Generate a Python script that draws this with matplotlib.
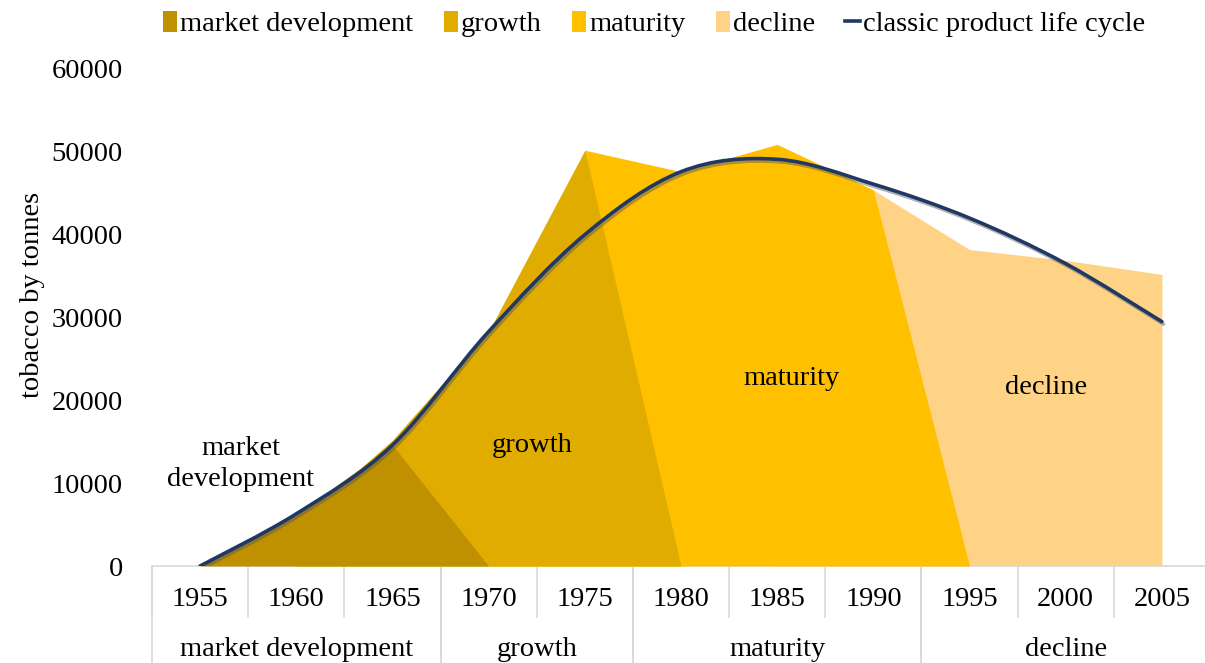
import numpy as np
import matplotlib
matplotlib.use('Agg')
import matplotlib.pyplot as plt
from matplotlib.path import Path
from matplotlib.patches import PathPatch, Patch
from matplotlib.lines import Line2D
import matplotlib.patheffects as pe

nan = np.nan

# ---- data ----
years = ['1955', '1960', '1965', '1970', '1975', '1980', '1985', '1990', '1995', '2000', '2005']
market_development = [0, 6200, 14600, 0, nan, nan, nan, nan, nan, nan, nan]
growth = [nan, 5000, 15200, 28300, 50200, 0, nan, nan, nan, nan, nan]
maturity = [nan, nan, nan, 0, 50200, 47600, 50900, 45400, 0, nan, nan]
decline = [nan, nan, nan, nan, nan, nan, 0, 45400, 38200, 36900, 35200]
classic_cycle = [0, 6300, 14600, 28300, 40000, 47600, 49100, 46100, 42000, 36500, 29500]

phase_names = ['market development', 'growth', 'maturity', 'decline']
phase_first = [0, 3, 5, 8]   # first category index of each phase
phase_last = [2, 4, 7, 10]   # last category index of each phase
legend_line = 'classic product life cycle'
y_label = 'tobacco by tonnes'
y_ticks = [0, 10000, 20000, 30000, 40000, 50000, 60000]

colors = ['#BF9000', '#E0AC00', '#FFC000', '#FFD386']
line_color = '#1F3864'
FS = 20.5

plt.rcParams['font.family'] = ['Liberation Serif', 'DejaVu Serif']

fig = plt.figure(figsize=(12.05, 6.63), dpi=100)
ax = fig.add_axes([152 / 1205, 1 - 566 / 663, 1058 / 1205, 497 / 663])

x = np.arange(len(years))
series = [market_development, growth, maturity, decline]
zorders = [5, 4, 3, 2]
for s, c, z in zip(series, colors, zorders):
    arr = np.array(s, dtype=float)
    mask = ~np.isnan(arr)
    ax.fill_between(x[mask], 0, arr[mask], color=c, lw=0, zorder=z)

# smooth line (Catmull-Rom -> cubic Bezier) through the data points
pts = np.column_stack([x, classic_cycle]).astype(float)
verts = [tuple(pts[0])]
codes = [Path.MOVETO]
n = len(pts)
for i in range(n - 1):
    p0 = pts[max(i - 1, 0)]
    p1 = pts[i]
    p2 = pts[i + 1]
    p3 = pts[min(i + 2, n - 1)]
    c1 = p1 + (p2 - p0) / 6.0
    c2 = p2 - (p3 - p1) / 6.0
    verts += [tuple(c1), tuple(c2), tuple(p2)]
    codes += [Path.CURVE4] * 3
curve = PathPatch(Path(verts, codes), fill=False, edgecolor=line_color, lw=2.6,
                  zorder=10, capstyle='round', joinstyle='round')
curve.set_path_effects([pe.SimpleLineShadow(offset=(1.2, -1.8), shadow_color='#555555', alpha=0.45),
                        pe.Normal()])
ax.add_patch(curve)

ax.set_xlim(-0.5, len(years) - 0.5)
ax.set_ylim(0, 60000)
ax.set_yticks(y_ticks)
ax.set_yticklabels([str(v) for v in y_ticks], fontsize=FS)
ax.set_xticks(x)
ax.set_xticklabels(years, fontsize=FS)
ax.tick_params(axis='both', length=0)
ax.tick_params(axis='y', pad=21)
ax.tick_params(axis='x', pad=15)
for sp in ['top', 'right', 'left']:
    ax.spines[sp].set_visible(False)
ax.spines['bottom'].set_color('#D9D9D9')
ax.spines['bottom'].set_linewidth(1.2)
ax.set_ylabel(y_label, fontsize=FS)
ax.yaxis.set_label_coords(-(152 - 45) / 1058, (566 - 295) / 497)

# category separators and phase group labels
trans = ax.get_xaxis_transform()
short_bottom = -51 / 497
long_bottom = -100 / 497
for b in np.arange(-0.5, len(years), 1.0):
    ax.plot([b, b], [0, short_bottom], transform=trans, color='#D9D9D9', lw=1.2, clip_on=False)
for f, l, name in zip(phase_first, phase_last, phase_names):
    for b in (f - 0.5, l + 0.5):
        ax.plot([b, b], [0, long_bottom], transform=trans, color='#D9D9D9', lw=1.2, clip_on=False)
    ax.text((f + l) / 2, -83 / 497, name, transform=trans, ha='center', va='center', fontsize=FS)

# in-chart phase annotations
ax.text(0.42, 12300, 'market\ndevelopment', ha='center', va='center', fontsize=FS,
        linespacing=1.35, zorder=12)
ax.text(3.45, 14600, 'growth', ha='center', va='center', fontsize=FS, zorder=12)
ax.text(6.15, 22600, 'maturity', ha='center', va='center', fontsize=FS, zorder=12)
ax.text(8.8, 21600, 'decline', ha='center', va='center', fontsize=FS, zorder=12)

handles = [Patch(facecolor=c, edgecolor='none') for c in colors]
handles.append(Line2D([0], [0], color=line_color, lw=2.6))
fig.legend(handles, phase_names + [legend_line], loc='center', ncol=5,
           bbox_to_anchor=(654 / 1205, 1 - 24 / 663), frameon=False, fontsize=FS,
           handlelength=0.5, handleheight=0.8, handletextpad=0.12, columnspacing=1.05)

fig.savefig('out.png', dpi=100)
